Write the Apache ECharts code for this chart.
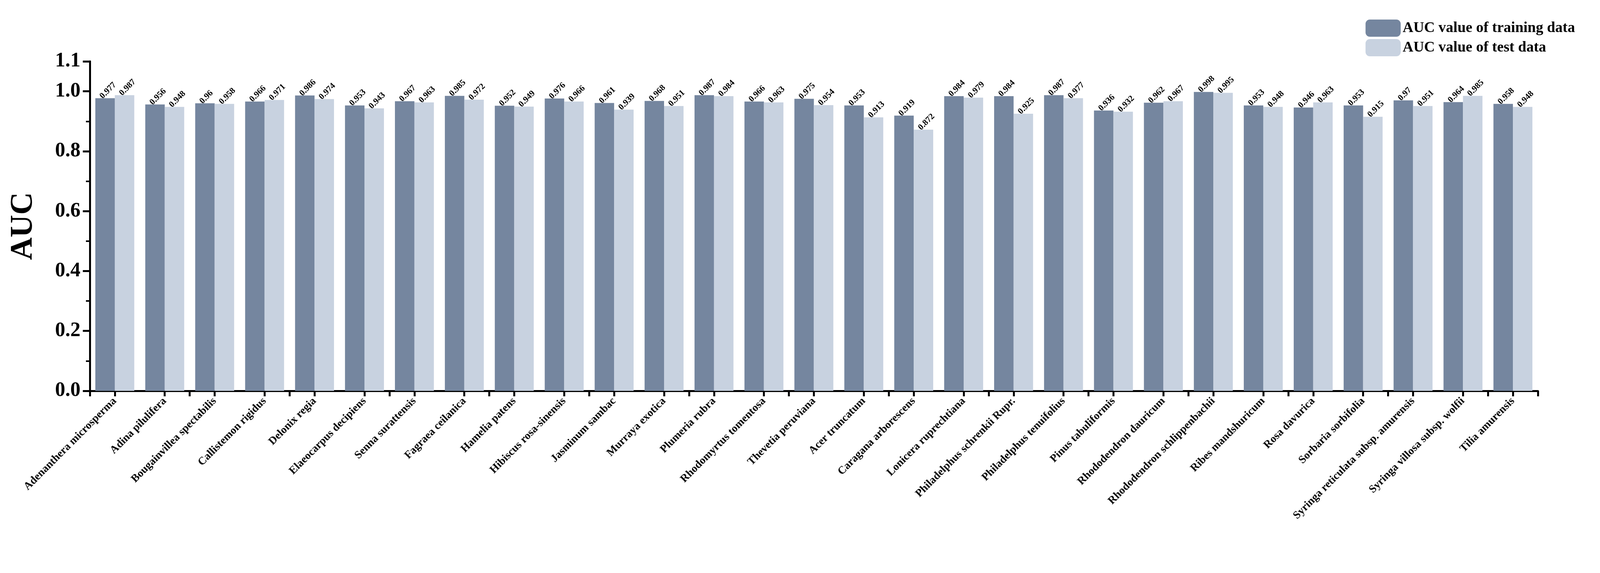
<!DOCTYPE html>
<html><head><meta charset="utf-8">
<script src="https://cdn.jsdelivr.net/npm/echarts@6/dist/echarts.min.js"></script>
<style>html,body{margin:0;background:#fff}#c{width:4097px;height:1466px}</style>
</head><body><div id="c"></div>
<script>
const categories = ["Adenanthera microsperma","Adina pilulifera","Bougainvillea spectabilis","Callistemon rigidus","Delonix regia","Elaeocarpus decipiens","Senna surattensis","Fagraea ceilanica","Hamelia patens","Hibiscus rosa-sinensis","Jasminum sambac","Murraya exotica","Plumeria rubra","Rhodomyrtus tomentosa","Thevetia peruviana","Acer truncatum","Caragana arborescens","Lonicera ruprechtiana","Philadelphus schrenkii Rupr.","Philadelphus tenuifolius","Pinus tabuliformis","Rhododendron dauricum","Rhododendron schlippenbachii","Ribes mandshuricum","Rosa davurica","Sorbaria sorbifolia","Syringa reticulata subsp. amurensis","Syringa villosa subsp. wolfii","Tilia amurensis"];
const training = [0.977,0.956,0.96,0.966,0.986,0.953,0.967,0.985,0.952,0.976,0.961,0.968,0.987,0.966,0.975,0.953,0.919,0.984,0.984,0.987,0.936,0.962,0.998,0.953,0.946,0.953,0.97,0.964,0.958];
const test = [0.987,0.948,0.958,0.971,0.974,0.943,0.963,0.972,0.949,0.966,0.939,0.951,0.984,0.963,0.954,0.913,0.872,0.979,0.925,0.977,0.932,0.967,0.995,0.948,0.963,0.915,0.951,0.985,0.948];
const F = 'Liberation Serif, Times New Roman, serif';
const axisLine = {show:true,lineStyle:{color:'#000',width:5}};
const lbl = {show:true,position:'top',rotate:45,align:'left',verticalAlign:'middle',distance:12,offset:[-14,0],
  fontFamily:F,fontWeight:'bold',fontSize:22,color:'#000',formatter:p=>String(p.value)};
const chart = echarts.init(document.getElementById('c'));
chart.setOption({
  animation:false,
  legend:{right:60,top:45,orient:'vertical',itemWidth:90,itemHeight:44,itemGap:6,
    textStyle:{fontFamily:F,fontWeight:'bold',fontSize:38,color:'#000'},
    data:['AUC value of training data','AUC value of test data']},
  grid:{left:230,right:160,top:157,bottom:466},
  xAxis:[{type:'category',data:categories,axisLine:axisLine,
    axisTick:{show:true,alignWithLabel:true,length:14,lineStyle:{width:5,color:'#000'}},
    axisLabel:{rotate:45,interval:0,fontFamily:F,fontWeight:'bold',fontSize:28,color:'#000',margin:22}},
   {type:'category',data:categories,position:'bottom',axisLine:{show:false},
    axisTick:{show:true,length:14,lineStyle:{width:5,color:'#000'}},axisLabel:{show:false}}],
  yAxis:{type:'value',min:0,max:1.1,interval:0.2,name:'AUC',nameLocation:'middle',nameGap:130,
    nameTextStyle:{fontFamily:F,fontWeight:'bold',fontSize:80,color:'#000'},
    axisLine:axisLine,axisTick:{show:true,inside:false,length:18,lineStyle:{width:5,color:'#000'}},
    minorTick:{show:true,splitNumber:2,length:10,lineStyle:{width:4,color:'#000'}},
    splitLine:{show:false},
    axisLabel:{fontFamily:F,fontWeight:'bold',fontSize:52,color:'#000',margin:24,formatter:v=>v.toFixed(1)}},
  series:[
    {name:'AUC value of training data',type:'bar',data:training,barGap:'0%',barCategoryGap:'22%',
     itemStyle:{color:'#75869f'},label:lbl},
    {name:'AUC value of test data',type:'bar',data:test,
     itemStyle:{color:'#c8d2e0'},label:lbl}
  ]
});
</script></body></html>
